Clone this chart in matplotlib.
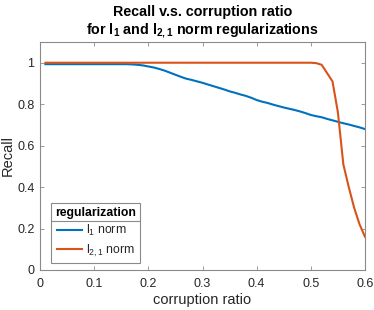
import numpy as np
import matplotlib
matplotlib.use("Agg")
import matplotlib.pyplot as plt
from matplotlib.lines import Line2D

plt.rcParams['font.family'] = ['Liberation Sans', 'DejaVu Sans']
plt.rcParams['mathtext.fontset'] = 'custom'
plt.rcParams['mathtext.rm'] = 'Liberation Sans'
plt.rcParams['mathtext.it'] = 'Liberation Sans'
plt.rcParams['mathtext.bf'] = 'Liberation Sans:bold'

ratio = np.round(np.arange(1, 61) / 100, 2)

recall_l1 = [0.993] * 16 + [
    0.992, 0.990, 0.987, 0.982, 0.977, 0.970, 0.962, 0.952, 0.942, 0.932,
    0.923, 0.917, 0.910, 0.903, 0.895, 0.887, 0.879, 0.871, 0.862, 0.855,
    0.847, 0.840, 0.831, 0.820, 0.812, 0.806, 0.798, 0.791, 0.784, 0.778,
    0.772, 0.765, 0.757, 0.748, 0.742, 0.737, 0.729, 0.722, 0.715, 0.708,
    0.702, 0.695, 0.688, 0.680]

recall_l21 = [1.0] * 50 + [
    0.998, 0.990, 0.950, 0.910, 0.760, 0.510, 0.400, 0.300, 0.220, 0.160]

labels = [r'l$_1$ norm', r'l$_{2,1}$ norm']
colors = ['#0072BD', '#D95319']
xticks = [0, 0.1, 0.2, 0.3, 0.4, 0.5, 0.6]
xticklabels = ['0', '0.1', '0.2', '0.3', '0.4', '0.5', '0.6']
yticks = [0, 0.2, 0.4, 0.6, 0.8, 1.0]
yticklabels = ['0', '0.2', '0.4', '0.6', '0.8', '1']

fig = plt.figure(figsize=(3.74, 3.10), dpi=100)
ax = fig.add_axes([40/374, 1 - 270/310, 325/374, 228/310])

for y, lab, c in zip([recall_l1, recall_l21], labels, colors):
    ax.plot(ratio, y, color=c, lw=1.5, label=lab)

ax.set_xlim(0, 0.6)
ax.set_ylim(0, 1.1)
ax.set_xticks(xticks)
ax.set_xticklabels(xticklabels)
ax.set_yticks(yticks)
ax.set_yticklabels(yticklabels)
gray = '#262626'
edge = '#8a8a8a'
for s in ax.spines.values():
    s.set_color(edge)
    s.set_linewidth(0.8)
ax.tick_params(direction='in', top=True, right=True, length=3, width=0.6,
               colors=edge, labelcolor=gray, labelsize=9)
ax.tick_params(axis='x', pad=6)
ax.tick_params(axis='y', pad=4)

ax.set_xlabel('corruption ratio', fontsize=10.5, color=gray, labelpad=2)
ax.set_ylabel('Recall', fontsize=10.5, color=gray, labelpad=2)
ax.set_title('Recall v.s. corruption ratio\n'
             r'for l$_\mathbf{1}$ and l$_\mathbf{2,1}$ norm regularizations',
             fontsize=10.3, fontweight='bold', color='black', pad=6,
             linespacing=1.15)

leg = ax.legend(title='regularization', loc='lower left',
                bbox_to_anchor=(0.034, 0.031), fancybox=False,
                edgecolor=edge, framealpha=1, fontsize=8.8,
                title_fontproperties={'weight': 'bold', 'size': 8.8},
                handlelength=2.1, handletextpad=0.3, borderpad=0.35,
                labelspacing=0.35, borderaxespad=0)
leg.get_frame().set_linewidth(0.8)
for t in leg.get_texts():
    t.set_color(gray)

fig.canvas.draw()
bb = leg.get_window_extent()
tb = leg.get_title().get_window_extent()
ydiv = tb.y0 - 2
inv = fig.transFigure.inverted()
p0 = inv.transform((bb.x0, ydiv))
p1 = inv.transform((bb.x1, ydiv))
fig.add_artist(Line2D([p0[0], p1[0]], [p0[1], p1[1]], color=edge, lw=0.8))

fig.savefig('out.png', dpi=100)
